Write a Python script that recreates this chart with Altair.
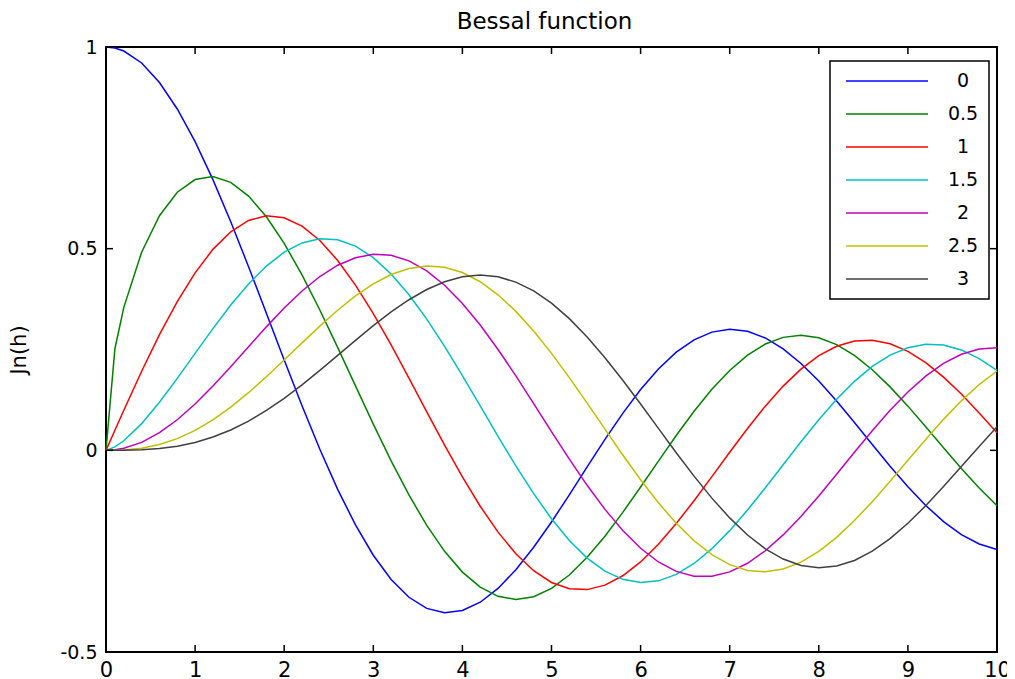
import altair as alt
import pandas as pd

# sample points (h)
H = [0, 0.1] + [round(0.2 * i, 1) for i in range(1, 51)]

J0 = [1.0, 0.9975, 0.9900, 0.9604, 0.9120, 0.8463, 0.7652, 0.6711, 0.5669, 0.4554, 0.3400, 0.2239, 0.1104, 0.0025,
      -0.0968, -0.1850, -0.2601, -0.3202, -0.3643, -0.3918, -0.4026, -0.3971, -0.3766, -0.3423, -0.2961, -0.2404,
      -0.1776, -0.1103, -0.0412, 0.0270, 0.0917, 0.1506, 0.2017, 0.2433, 0.2740, 0.2931, 0.3001, 0.2951, 0.2786,
      0.2516, 0.2154, 0.1717, 0.1222, 0.0692, 0.0146, -0.0392, -0.0903, -0.1367, -0.1768, -0.2090, -0.2323, -0.2459]
J05 = [0, 0.2519, 0.3545, 0.4913, 0.5816, 0.6399, 0.6714, 0.6789, 0.6645, 0.6305, 0.5792, 0.5130, 0.4349, 0.3479,
       0.2551, 0.1597, 0.0650, -0.0260, -0.1106, -0.1861, -0.2504, -0.3019, -0.3393, -0.3620, -0.3697, -0.3628,
       -0.3422, -0.3091, -0.2653, -0.2128, -0.1539, -0.0910, -0.0266, 0.0368, 0.0968, 0.1512, 0.1981, 0.2360, 0.2636,
       0.2801, 0.2853, 0.2791, 0.2621, 0.2353, 0.1998, 0.1573, 0.1096, 0.0586, 0.0065, -0.0449, -0.0934, -0.1373]
J1 = [0, 0.0499, 0.0995, 0.1960, 0.2867, 0.3688, 0.4401, 0.4983, 0.5419, 0.5699, 0.5815, 0.5767, 0.5560, 0.5202,
      0.4708, 0.4097, 0.3391, 0.2613, 0.1792, 0.0955, 0.0128, -0.0660, -0.1386, -0.2028, -0.2566, -0.2985, -0.3276,
      -0.3432, -0.3453, -0.3343, -0.3110, -0.2767, -0.2329, -0.1816, -0.1250, -0.0652, -0.0047, 0.0543, 0.1096,
      0.1592, 0.2014, 0.2346, 0.2580, 0.2708, 0.2728, 0.2641, 0.2453, 0.2174, 0.1816, 0.1395, 0.0928, 0.0435]
J15 = [0, 0.0084, 0.0237, 0.0662, 0.1192, 0.1784, 0.2403, 0.3018, 0.3601, 0.4125, 0.4569, 0.4913, 0.5143, 0.5247,
       0.5221, 0.5063, 0.4777, 0.4371, 0.3858, 0.3254, 0.2579, 0.1853, 0.1101, 0.0346, -0.0386, -0.1075, -0.1697,
       -0.2234, -0.2671, -0.2995, -0.3199, -0.3279, -0.3236, -0.3075, -0.2805, -0.2438, -0.1991, -0.1481, -0.0930,
       -0.0359, 0.0211, 0.0759, 0.1265, 0.1710, 0.2079, 0.2360, 0.2545, 0.2628, 0.2609, 0.2489, 0.2276, 0.1980]
J2 = [0, 0.0013, 0.0050, 0.0197, 0.0437, 0.0758, 0.1149, 0.1593, 0.2074, 0.2570, 0.3061, 0.3528, 0.3951, 0.4310,
      0.4590, 0.4776, 0.4861, 0.4835, 0.4697, 0.4449, 0.4093, 0.3641, 0.3106, 0.2501, 0.1845, 0.1160, 0.0466,
      -0.0217, -0.0867, -0.1464, -0.1989, -0.2429, -0.2768, -0.3001, -0.3119, -0.3123, -0.3014, -0.2800, -0.2490,
      -0.2097, -0.1638, -0.1130, -0.0593, -0.0047, 0.0488, 0.0992, 0.1448, 0.1840, 0.2154, 0.2381, 0.2512, 0.2546]
J25 = [0, 0.0002, 0.0009, 0.0053, 0.0145, 0.0291, 0.0495, 0.0756, 0.1070, 0.1429, 0.1823, 0.2239, 0.2664, 0.3080,
       0.3474, 0.3828, 0.4127, 0.4359, 0.4510, 0.4573, 0.4540, 0.4409, 0.4180, 0.3856, 0.3445, 0.2956, 0.2404,
       0.1803, 0.1170, 0.0524, -0.0116, -0.0730, -0.1300, -0.1809, -0.2242, -0.2587, -0.2834, -0.2977, -0.3013,
       -0.2943, -0.2772, -0.2506, -0.2159, -0.1742, -0.1273, -0.0769, -0.0248, 0.0271, 0.0768, 0.1227, 0.1631, 0.1967]
J3 = [0, 0.0000, 0.0002, 0.0013, 0.0044, 0.0103, 0.0196, 0.0329, 0.0505, 0.0725, 0.0988, 0.1289, 0.1624, 0.1981,
      0.2354, 0.2726, 0.3090, 0.3431, 0.3734, 0.3988, 0.4180, 0.4301, 0.4344, 0.4302, 0.4170, 0.3952, 0.3649,
      0.3265, 0.2811, 0.2297, 0.1738, 0.1148, 0.0543, -0.0060, -0.0640, -0.1185, -0.1675, -0.2099, -0.2442,
      -0.2696, -0.2854, -0.2911, -0.2869, -0.2730, -0.2501, -0.2190, -0.1809, -0.1374, -0.0899, -0.0403, 0.0097, 0.0583]

ORDERS = ["0", "0.5", "1", "1.5", "2", "2.5", "3"]
COLORS = ["#0000FF", "#008000", "#FF0000", "#00BFBF", "#BF00BF", "#BFBF00", "#404040"]
SERIES = [J0, J05, J1, J15, J2, J25, J3]

X_TICKS = [0, 1, 2, 3, 4, 5, 6, 7, 8, 9, 10]
Y_TICKS = [-0.5, 0, 0.5, 1]

rows = []
for k, (name, ys) in enumerate(zip(ORDERS, SERIES)):
    assert len(ys) == len(H), name
    for h, v in zip(H, ys):
        rows.append({"h": h, "J": v, "n": name, "k": k})
df = pd.DataFrame(rows)

FONT = "DejaVu Sans"
W, HT = 891, 605
TL = 7

xscale = alt.Scale(domain=[0, 10], nice=False, zero=False)
yscale = alt.Scale(domain=[-0.5, 1], nice=False, zero=False)

xaxis = alt.Axis(values=X_TICKS, title=None, domain=False, ticks=False, grid=False,
                 labelFontSize=21, labelPadding=7, labelFont=FONT, labelColor="black",
                 labelFlush=False, labelOverlap=False, labelBound=False,
                 labelExpr="'' + datum.value")
yaxis = alt.Axis(values=Y_TICKS, title="Jn(h)", domain=False, ticks=False, grid=False,
                 labelFontSize=19, labelPadding=9, labelFont=FONT, labelColor="black",
                 labelFlush=False, labelOverlap=False, labelBound=False,
                 labelExpr="'' + datum.value", titleFontSize=21, titleFont=FONT,
                 titleFontWeight="normal", titleColor="black", titlePadding=30)

lines = alt.Chart(df).mark_line(strokeWidth=1.5).encode(
    x=alt.X("h:Q", scale=xscale, axis=xaxis),
    y=alt.Y("J:Q", scale=yscale, axis=yaxis),
    color=alt.Color("n:N", scale=alt.Scale(domain=ORDERS, range=COLORS), sort=ORDERS,
                    legend=alt.Legend(title=None, orient="none", legendX=724, legendY=14,
                                      symbolType="stroke", symbolSize=6724, symbolStrokeWidth=1.5,
                                      clipHeight=20, rowPadding=13, padding=10, symbolOffset=5,
                                      labelOffset=34, labelAlign="center", labelFontSize=19,
                                      labelFont=FONT, labelColor="black",
                                      strokeColor="black", fillColor="white")),
    order=alt.Order("k:Q"),
    detail="n:N",
)

xt = pd.DataFrame({"t": X_TICKS})
yt = pd.DataFrame({"t": Y_TICKS})

bot = alt.Chart(xt).mark_rule(color="black", strokeWidth=1.5).encode(
    x=alt.X("t:Q", scale=xscale, axis=xaxis), y=alt.value(HT), y2=alt.value(HT - TL))
top = alt.Chart(xt).mark_rule(color="black", strokeWidth=1.5).encode(
    x=alt.X("t:Q", scale=xscale, axis=xaxis), y=alt.value(0), y2=alt.value(TL))
left = alt.Chart(yt).mark_rule(color="black", strokeWidth=1.5).encode(
    y=alt.Y("t:Q", scale=yscale, axis=yaxis), x=alt.value(0), x2=alt.value(TL))
right = alt.Chart(yt).mark_rule(color="black", strokeWidth=1.5).encode(
    y=alt.Y("t:Q", scale=yscale, axis=yaxis), x=alt.value(W), x2=alt.value(W - TL))

chart = alt.layer(lines, bot, top, left, right).properties(
    width=W, height=HT,
    title=alt.TitleParams("Bessal function", fontSize=23, font=FONT, fontWeight="normal",
                          color="black", offset=4, anchor="middle", dx=-7),
    autosize="none",
    padding={"left": 98, "top": 39, "right": 10, "bottom": 27},
).configure_view(stroke="black", strokeWidth=2).configure_legend(strokeWidth=1.5)

chart.save("out.html", embed_options={"renderer": "svg", "actions": False})
